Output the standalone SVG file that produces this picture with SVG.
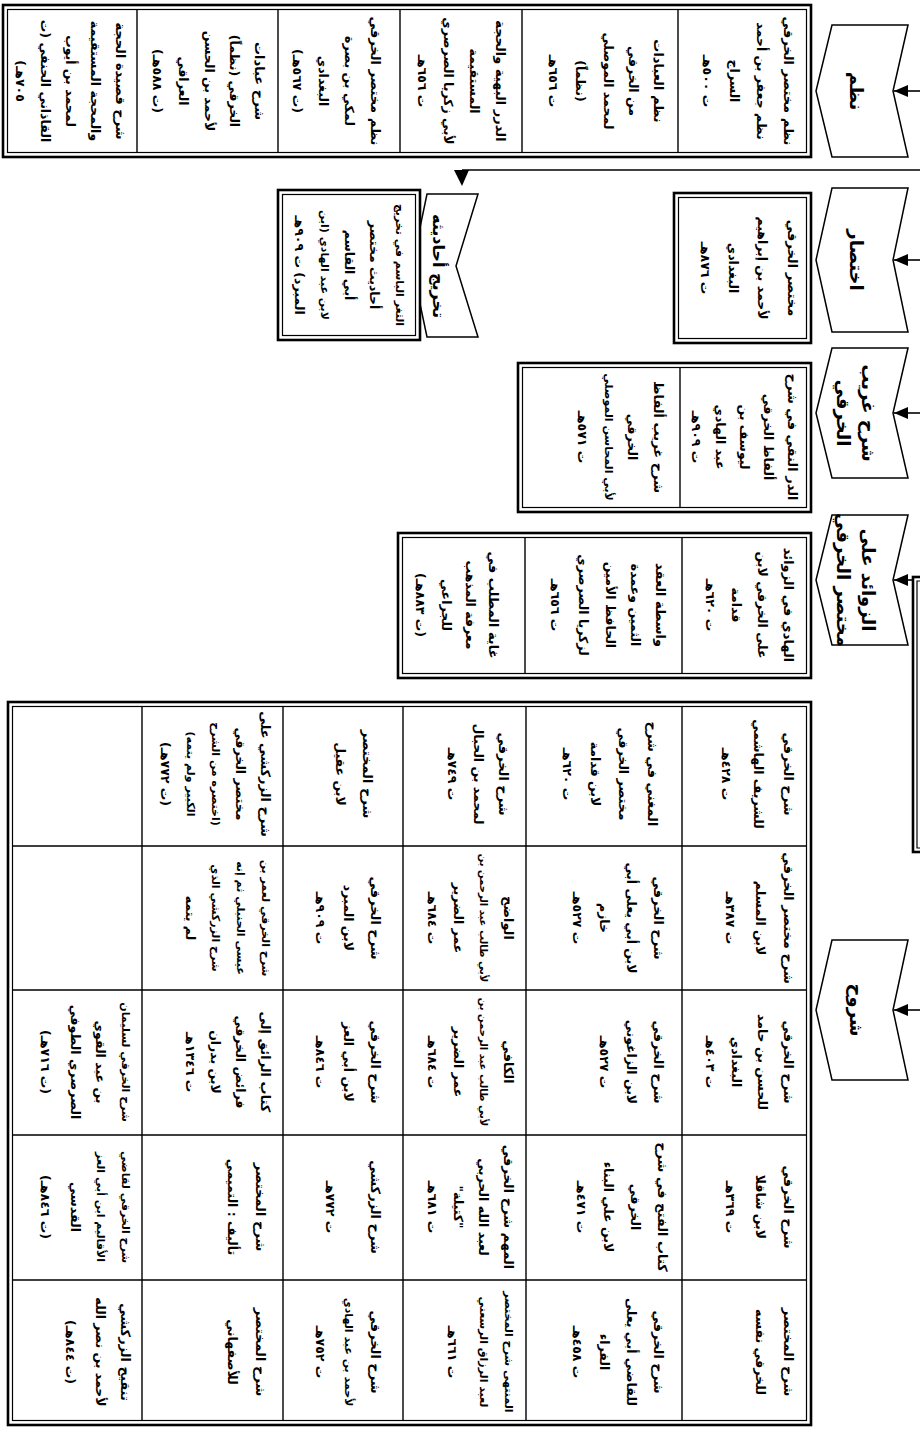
<svg xmlns="http://www.w3.org/2000/svg" width="920" height="1432" viewBox="0 0 920 1432">
<style>
.t{font-family:"DejaVu Sans",sans-serif;font-size:12.5px;font-weight:bold;direction:rtl;text-anchor:middle;dominant-baseline:central;fill:#000}
.b{font-size:13px}
.s{font-size:11px}
.h{font-size:18px;font-weight:bold}
.o{fill:#fff;stroke:#000;stroke-width:2.6}
.i{fill:none;stroke:#000;stroke-width:1.2}
.g{fill:none;stroke:#000;stroke-width:1.4}
.c{fill:#fff;stroke:#000;stroke-width:1.5}
.l{fill:none;stroke:#000;stroke-width:1.6}
</style>
<defs>
<marker id="ah" viewBox="0 0 14 12" refX="14" refY="6" markerWidth="14" markerHeight="12" markerUnits="userSpaceOnUse" orient="auto"><path d="M0,0 L14,6 L0,12 z" fill="#000"/></marker>
</defs>
<rect width="920" height="1432" fill="#fff"/>
<g transform="matrix(0 1 -1 0 920 0)">
<g id="connectors">
<path class="l" d="M91,-3 L91,26" marker-end="url(#ah)"/>
<path class="l" d="M260,-3 L260,26" marker-end="url(#ah)"/>
<path class="l" d="M413,-3 L413,26" marker-end="url(#ah)"/>
<path class="l" d="M580,-3 L580,26" marker-end="url(#ah)"/>
<path class="l" d="M1010,-3 L1010,26" marker-end="url(#ah)"/>
<path class="l" d="M170,-3 L170,458"/>
<polygon points="170,451 170,466 186,458" fill="#000"/>
<rect class="o" x="577" y="-6" width="275" height="13"/>
<path class="i" d="M581,-6 V3 H848 V-6"/>
</g>

<g id="h-nazm"><polygon class="c" points="25,12 91,27 157,12 157,88 91,104 25,88"/><text class="t h" x="91" y="64">نظم</text></g>
<g id="h-ikhtisar"><polygon class="c" points="188,12 260,27 332,12 332,88 260,104 188,88"/><text class="t h" x="260" y="64">اختصار</text></g>
<g id="h-gharib"><polygon class="c" points="348,12 413,27 478,12 478,88 413,104 348,88"/><text class="t h" x="413" y="52">شرح غريب</text><text class="t h" x="413" y="77">الخرقي</text></g>
<g id="h-zawaid"><polygon class="c" points="515,12 580,27 645,12 645,88 580,104 515,88"/><text class="t h" x="580" y="52">الزوائد على</text><text class="t h" x="580" y="77">مختصر الخرقي</text></g>
<g id="h-shuruh"><polygon class="c" points="940,12 1010,27 1080,12 1080,88 1010,104 940,88"/><text class="t h" x="1010" y="64">شروح</text></g>
<g id="h-takhrij"><polygon class="c" points="194,442 266,464 337,442 337,493 266,508 194,493"/><text class="t h" x="266" y="482" style="font-size:16px">تخريج أحاديثه</text></g>

<g id="nazm-box">
<rect class="o" x="5" y="109" width="152" height="808"/>
<rect class="i" x="9.5" y="113.5" width="143" height="799"/>
<path class="g" d="M9.5,242 H152.5 M9.5,398 H152.5 M9.5,520 H152.5 M9.5,642 H152.5 M9.5,783 H152.5"/>
<text class="t b" x="81" y="132">نظم مختصر الخرقي</text><text class="t" x="81" y="159">نظم جعفر بن أحمد</text><text class="t" x="81" y="186">السراج</text><text class="t" x="81" y="213">ت ٥٠٠هـ</text>
<text class="t b" x="81" y="262">نظم العبادات</text><text class="t" x="81" y="287">من الخرقي</text><text class="t" x="81" y="312">لمحمد الموصلي</text><text class="t" x="81" y="340">(نظماً)</text><text class="t" x="81" y="367">ت ٦٥٦هـ</text>
<text class="t b" x="81" y="420">الدرر البهية والحجة</text><text class="t" x="81" y="446">المستقيمة</text><text class="t" x="81" y="472">لأبي زكريا الصرصري</text><text class="t" x="81" y="498">ت ٦٥٦هـ</text>
<text class="t b" x="81" y="545">نظم مختصر الخرقي</text><text class="t" x="81" y="571">لمكي بن بصرة</text><text class="t" x="81" y="597">البغدادي</text><text class="t" x="81" y="623">(ت ٥٦٧هـ)</text>
<text class="t b" x="81" y="661">شرح عبادات</text><text class="t" x="81" y="686">الخرقي (نظماً)</text><text class="t" x="81" y="711">لأحمد بن الحسن</text><text class="t" x="81" y="737">العراقي</text><text class="t" x="81" y="763">(ت ٥٨٨هـ)</text>
<text class="t b" x="81" y="800">شرح قصيدة الحجة</text><text class="t" x="81" y="825">والمحجة المستقيمة</text><text class="t" x="81" y="850">لمحمد بن أيوب</text><text class="t" x="81" y="875">القاذاني الحنفي (ت</text><text class="t" x="81" y="900">٧٠٥هـ)</text>
</g>

<g id="ikhtisar-box">
<rect class="o" x="193" y="109" width="150" height="137"/>
<rect class="i" x="197.5" y="113.5" width="141" height="128"/>
<text class="t b" x="268" y="128">مختصر الخرقي</text><text class="t" x="268" y="158">لأحمد بن إبراهيم</text><text class="t" x="268" y="187">البغدادي</text><text class="t" x="268" y="215">ت ٨٧٦هـ</text>
</g>

<g id="takhrij-box">
<rect class="o" x="190" y="500" width="150" height="142"/>
<rect class="i" x="194.5" y="504.5" width="141" height="133"/>
<text class="t b s" x="265" y="521">الثغر الباسم في تخريج</text><text class="t" x="265" y="546">أحاديث مختصر</text><text class="t" x="265" y="571">أبي القاسم</text><text class="t s" x="265" y="596">لابن عبد الهادي (ابن</text><text class="t" x="265" y="621">المبرد) ت ٩٠٩هـ</text>
</g>

<g id="gharib-box">
<rect class="o" x="363" y="109" width="149" height="293"/>
<rect class="i" x="367.5" y="113.5" width="140" height="284"/>
<path class="g" d="M367.5,240 H507.5"/>
<text class="t b" x="437" y="128">الدر النقي في شرح</text><text class="t" x="437" y="152">ألفاظ الخرقي</text><text class="t" x="437" y="176">ليوسف بن</text><text class="t" x="437" y="200">عبد الهادي</text><text class="t" x="437" y="224">ت ٩٠٩هـ</text>
<text class="t b" x="437" y="262">شرح غريب ألفاظ</text><text class="t" x="437" y="288">الخرقي</text><text class="t s" x="437" y="312">لأبي المحاسن الموصلي</text><text class="t" x="437" y="338">ت ٥٧١هـ</text>
</g>

<g id="zawaid-box">
<rect class="o" x="533" y="109" width="145" height="413"/>
<rect class="i" x="537.5" y="113.5" width="136" height="404"/>
<path class="g" d="M537.5,238 H673.5 M537.5,395 H673.5"/>
<text class="t b" x="605" y="132">الهادي في الزوائد</text><text class="t" x="605" y="158">على الخرقي لابن</text><text class="t" x="605" y="184">قدامة</text><text class="t" x="605" y="210">ت ٦٢٠هـ</text>
<text class="t b" x="605" y="260">واسطة العقد</text><text class="t" x="605" y="285">الثمين وعمدة</text><text class="t" x="605" y="310">الحافظ الأمين</text><text class="t" x="605" y="337">لزكريا الصرصري</text><text class="t" x="605" y="365">ت ٦٥٦هـ</text>
<text class="t b" x="605" y="427">غاية المطلب في</text><text class="t" x="605" y="450">معرفة المذهب</text><text class="t" x="605" y="474">للجراعي</text><text class="t" x="605" y="500">(ت ٨٨٣هـ)</text>
</g>

<g id="shuruh-table">
<rect class="o" x="702" y="109" width="723" height="803"/>
<rect class="i" x="706.5" y="113.5" width="714" height="794"/>
<path class="g" d="M846,113.5 V907.5 M990,113.5 V907.5 M1135,113.5 V907.5 M1280,113.5 V907.5 M706.5,238 H1420.5 M706.5,394 H1420.5 M706.5,517 H1420.5 M706.5,637 H1420.5 M706.5,778 H1420.5"/>
<g id="r1">
<text class="t b" x="774" y="132">شرح الخرقي</text><text class="t" x="774" y="162">للشريف الهاشمي</text><text class="t" x="774" y="194">ت ٤٢٨هـ</text>
<text class="t b" x="918" y="132">شرح مختصر الخرقي</text><text class="t" x="918" y="160">لابن المسلم</text><text class="t" x="918" y="190">ت ٣٨٧هـ</text>
<text class="t b" x="1062" y="132">شرح الخرقي</text><text class="t" x="1062" y="158">للحسن بن حامد</text><text class="t" x="1062" y="184">البغدادي</text><text class="t" x="1062" y="210">ت ٤٠٣هـ</text>
<text class="t b" x="1207" y="132">شرح الخرقي</text><text class="t" x="1207" y="160">لابن شاقلا</text><text class="t" x="1207" y="190">ت ٣٦٩هـ</text>
<text class="t b" x="1352" y="132">شرح المختصر</text><text class="t" x="1352" y="160">للخرقي نفسه</text>
</g>
<g id="r2">
<text class="t b" x="774" y="268">المغني في شرح</text><text class="t" x="774" y="297">مختصر الخرقي</text><text class="t" x="774" y="325">لابن قدامة</text><text class="t" x="774" y="353">ت ٦٢٠هـ</text>
<text class="t b" x="918" y="262">شرح الخرقي</text><text class="t" x="918" y="289">لابن أبي يعلى أبي</text><text class="t" x="918" y="316">خازم</text><text class="t" x="918" y="343">ت ٥٢٧هـ</text>
<text class="t b" x="1062" y="262">شرح الخرقي</text><text class="t" x="1062" y="289">لابن الزاغوني</text><text class="t" x="1062" y="316">ت ٥٢٧هـ</text>
<text class="t b" x="1207" y="258">كتاب الفتح في شرح</text><text class="t" x="1207" y="285">الخرقي</text><text class="t" x="1207" y="312">لابن علي البناء</text><text class="t" x="1207" y="339">ت ٤٧١هـ</text>
<text class="t b" x="1352" y="262">شرح الخرقي</text><text class="t" x="1352" y="289">للقاضي أبي يعلى</text><text class="t" x="1352" y="316">الفراء</text><text class="t" x="1352" y="343">ت ٤٥٨هـ</text>
</g>
<g id="r3">
<text class="t b" x="774" y="417">شرح الخرقي</text><text class="t" x="774" y="442">لمحمد بن الحبال</text><text class="t" x="774" y="468">ت ٧٤٩هـ</text>
<text class="t b" x="918" y="412">الواضح</text><text class="t s" x="918" y="437" style="font-size:10px">لأبي طالب عبد الرحمن بن</text><text class="t" x="918" y="462">عمر الضرير</text><text class="t" x="918" y="488">ت ٦٨٤هـ</text>
<text class="t b" x="1062" y="412">الكافي</text><text class="t s" x="1062" y="437" style="font-size:10px">لأبي طالب عبد الرحمن بن</text><text class="t" x="1062" y="462">عمر الضرير</text><text class="t" x="1062" y="488">ت ٦٨٤هـ</text>
<text class="t b" x="1207" y="412">المهم شرح الخرقي</text><text class="t" x="1207" y="437">لعبد الله الحربي</text><text class="t" x="1207" y="462">"كتيلة"</text><text class="t" x="1207" y="488">ت ٦٨١هـ</text>
<text class="t b s" x="1352" y="412">المنتهى شرح المختصر</text><text class="t s" x="1352" y="437">لعبد الرزاق الرسعني</text><text class="t" x="1352" y="468">ت ٦٦١هـ</text>
</g>
<g id="r4">
<text class="t b" x="774" y="553">شرح المختصر</text><text class="t" x="774" y="580">لابن عقيل</text>
<text class="t b" x="918" y="545">شرح الخرقي</text><text class="t" x="918" y="572">لابن المبرد</text><text class="t" x="918" y="600">ت ٩٠٩هـ</text>
<text class="t b" x="1062" y="545">شرح الخرقي</text><text class="t" x="1062" y="572">لابن أبي العز</text><text class="t" x="1062" y="600">ت ٨٤٦هـ</text>
<text class="t b" x="1207" y="545">شرح الزركشي</text><text class="t" x="1207" y="590">ت ٧٧٢هـ</text>
<text class="t b" x="1352" y="545">شرح الخرقي</text><text class="t s" x="1352" y="572">لأحمد بن عبد الهادي</text><text class="t" x="1352" y="600">ت ٧٥٢هـ</text>
</g>
<g id="r5">
<text class="t b" x="774" y="655">شرح الزركشي على</text><text class="t" x="774" y="680">مختصر الخرقي</text><text class="t s" x="774" y="705">(اختصره من الشرح</text><text class="t s" x="774" y="730">الكبير ولم يتمه)</text><text class="t" x="774" y="755">(ت ٧٧٢هـ)</text>
<text class="t b s" x="918" y="655">شرح الخرقي لعمر بن</text><text class="t s" x="918" y="680">عيسى الحنبلي ثم إنه</text><text class="t s" x="918" y="705">شرح الزركشي الذي</text><text class="t" x="918" y="730">لم يتمه</text>
<text class="t b" x="1062" y="655">كتاب الرائق إلى</text><text class="t" x="1062" y="680">فرائض الخرقي</text><text class="t" x="1062" y="705">لابن بدران</text><text class="t" x="1062" y="730">ت ١٣٤٦هـ</text>
<text class="t b" x="1207" y="660">شرح المختصر</text><text class="t" x="1207" y="688">تأليف : التميمي</text>
<text class="t b" x="1352" y="660">شرح المختصر</text><text class="t" x="1352" y="688">للأصفهاني</text>
</g>
<g id="r6">
<text class="t b s" x="1062" y="795">شرح الخرقي لسليمان</text><text class="t" x="1062" y="820">بن عبد القوي</text><text class="t" x="1062" y="845">الصرصري الطوفي</text><text class="t" x="1062" y="875">(ت ٧١٦هـ)</text>
<text class="t b s" x="1207" y="795">شرح الخرقي لقاضي</text><text class="t s" x="1207" y="820">الأقاليم ابن أبي العز</text><text class="t" x="1207" y="845">القدسي</text><text class="t" x="1207" y="875">(ت ٨٤٦هـ)</text>
<text class="t b" x="1352" y="795">تنقيح الزركشي</text><text class="t" x="1352" y="820">لأحمد بن نصر الله</text><text class="t" x="1352" y="850">(ت ٨٤٤هـ)</text>
</g>
</g>
</g>
</svg>
